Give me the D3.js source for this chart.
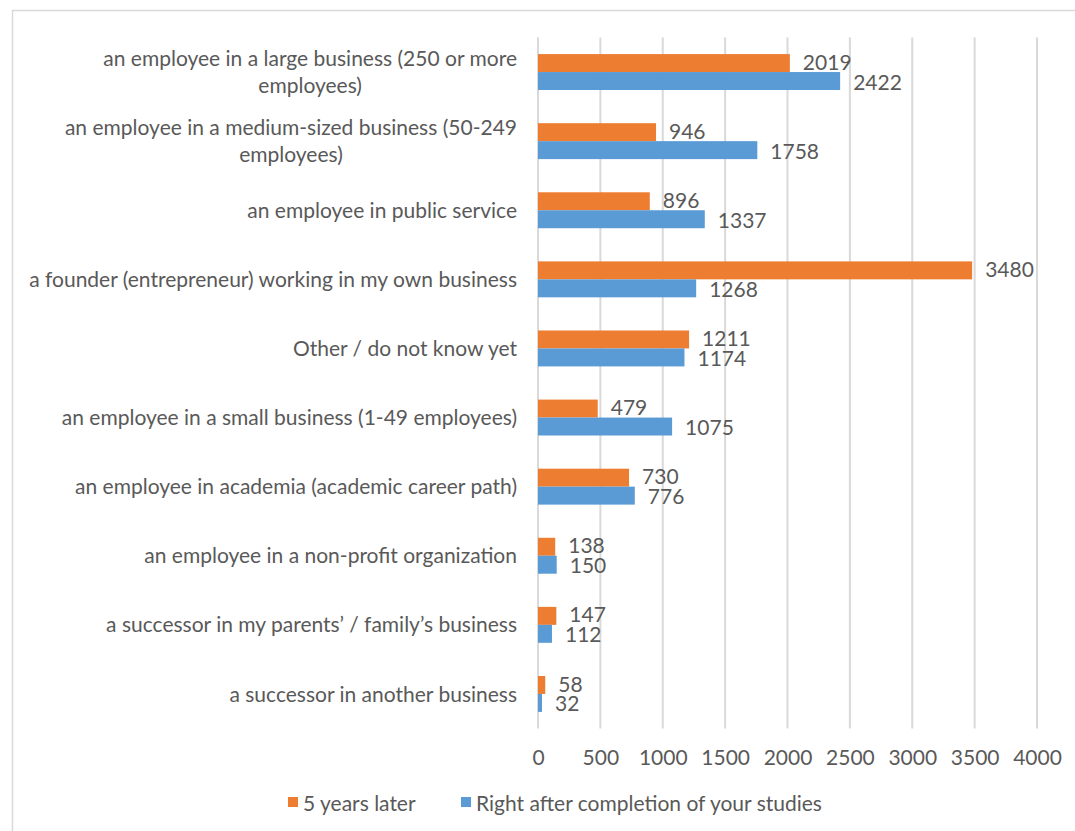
<!DOCTYPE html>
<html>
<head>
<meta charset="utf-8">
<script src="https://cdn.jsdelivr.net/npm/d3@7"></script>
<style>
  html, body { margin: 0; padding: 0; background: #fff; }
  svg { display: block; }
  text { font-family: Lato, "Open Sans", sans-serif; fill: #595959; }
</style>
</head>
<body>
<svg id="chart" width="1075" height="831"></svg>
<script>
// Career intentions, top to bottom
const categories = [
  ["an employee in a large business (250 or more", "employees)"],
  ["an employee in a medium-sized business (50-249", "employees)"],
  ["an employee in public service"],
  ["a founder (entrepreneur) working in my own business"],
  ["Other / do not know yet"],
  ["an employee in a small business (1-49 employees)"],
  ["an employee in academia (academic career path)"],
  ["an employee in a non-profit organization"],
  ["a successor in my parents\u2019 / family\u2019s business"],
  ["a successor in another business"]
];
const fiveYearsLater = [2019, 946, 896, 3480, 1211, 479, 730, 138, 147, 58];
const rightAfterStudies = [2422, 1758, 1337, 1268, 1174, 1075, 776, 150, 112, 32];
const seriesNames = ["5 years later", "Right after completion of your studies"];
const seriesColors = ["#ED7D31", "#5B9BD5"];
const xTicks = [0, 500, 1000, 1500, 2000, 2500, 3000, 3500, 4000];

const FS = 21;
const svg = d3.select("#chart");
const W = 1075, H = 831;

// chart frame
svg.append("rect")
  .attr("x", 12.5).attr("y", 10.5)
  .attr("width", W + 10).attr("height", H + 10)
  .attr("fill", "#fff").attr("stroke", "#d9d9d9").attr("stroke-width", 1.5);

const plot = { left: 538, right: 1037, top: 37.5, bottom: 728.5 };

const x = d3.scaleLinear().domain([0, 4000]).range([plot.left, plot.right]);
const y = d3.scaleBand().domain(d3.range(categories.length))
  .range([plot.top, plot.bottom]).paddingInner(0.48).paddingOuter(0.24);
const ySub = d3.scaleBand().domain([0, 1]).range([0, y.bandwidth()]);

// vertical gridlines
svg.append("g").selectAll("line").data(xTicks).join("line")
  .attr("x1", d => x(d)).attr("x2", d => x(d))
  .attr("y1", plot.top).attr("y2", plot.bottom)
  .attr("stroke", "#d9d9d9").attr("stroke-width", 2);

// x axis tick labels
const xAxis = d3.axisBottom(x).tickValues(xTicks).tickFormat(d3.format("d"))
  .tickSize(0).tickPadding(0);
const gx = svg.append("g").attr("transform", `translate(0, ${plot.bottom + 29})`).call(xAxis);
gx.select(".domain").remove();
gx.selectAll("text").attr("font-size", FS).attr("fill", "#595959")
  .attr("font-family", "Lato, sans-serif").attr("dy", "0.36em").attr("y", 0);

// bars
const series = [fiveYearsLater, rightAfterStudies];
series.forEach((vals, si) => {
  const g = svg.append("g");
  g.selectAll("rect").data(vals).join("rect")
    .attr("x", x(0))
    .attr("y", (d, i) => y(i) + ySub(si))
    .attr("width", d => x(d) - x(0))
    .attr("height", ySub.bandwidth())
    .attr("fill", seriesColors[si]);
  g.selectAll("text").data(vals).join("text")
    .attr("x", d => x(d) + 13)
    .attr("y", (d, i) => y(i) + ySub(si) + ySub.bandwidth() / 2 + (si === 0 ? -1 : 1))
    .attr("dy", "0.36em")
    .attr("font-size", FS)
    .text(d => d);
});

// category labels (wrapped lines centered within a right-aligned block)
const labelRight = 517;
const lineH = 27;
categories.forEach((lines, i) => {
  const cy = y(i) + y.bandwidth() / 2;
  const g = svg.append("g");
  const texts = lines.map((ln, j) => g.append("text")
    .attr("font-size", FS)
    .attr("text-anchor", "middle")
    .attr("dy", "0.36em")
    .attr("y", cy + (j - (lines.length - 1) / 2) * lineH)
    .text(ln));
  const widths = texts.map(t => t.node().getComputedTextLength());
  const blockW = d3.max(widths);
  texts.forEach(t => t.attr("x", labelRight - blockW / 2));
});

// legend
const legend = svg.append("g").attr("transform", "translate(0, 803)");
const legendX = [288, 461];
seriesNames.forEach((name, i) => {
  legend.append("rect").attr("x", legendX[i]).attr("y", -6)
    .attr("width", 10).attr("height", 10).attr("fill", seriesColors[i]);
  legend.append("text").attr("x", legendX[i] + 15).attr("y", 0)
    .attr("dy", "0.36em").attr("font-size", FS).text(name);
});
</script>
</body>
</html>
